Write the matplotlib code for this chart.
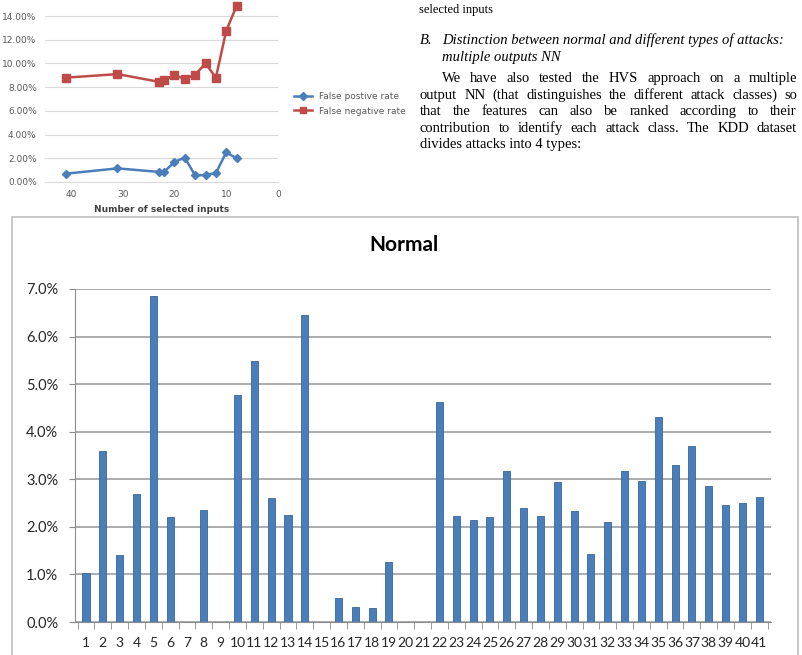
import matplotlib.pyplot as plt
from matplotlib.patches import Rectangle
from matplotlib.lines import Line2D
from matplotlib.ticker import FuncFormatter, FixedLocator

# --- data -------------------------------------------------------------
n_inputs = [41, 31, 23, 22, 20, 18, 16, 14, 12, 10, 8]
false_pos = [0.70, 1.15, 0.85, 0.85, 1.70, 2.05, 0.55, 0.60, 0.75, 2.50, 2.00]
false_neg = [8.80, 9.10, 8.45, 8.60, 9.00, 8.70, 9.05, 10.00, 8.80, 12.75, 14.85]

features = list(range(1, 42))
normal = [1.03, 3.60, 1.40, 2.70, 6.85, 2.20, 0.0, 2.35, 0.0, 4.78,
          5.48, 2.60, 2.25, 6.45, 0.0, 0.50, 0.32, 0.30, 1.27, 0.0,
          0.0, 4.62, 2.22, 2.15, 2.20, 3.17, 2.40, 2.22, 2.94, 2.34,
          1.42, 2.10, 3.17, 2.96, 4.30, 3.29, 3.70, 2.85, 2.45, 2.50,
          2.62]

caption_tail = "selected inputs"
heading = ["Distinction between normal and different types of attacks:",
           "multiple outputs NN"]
para = ["We have also tested the HVS approach on a multiple",
        "output NN (that distinguishes the different attack classes) so",
        "that the features can also be ranked according to their",
        "contribution to identify each attack class. The KDD dataset",
        "divides attacks into 4 types:"]

W, H = 802, 655
fig = plt.figure(figsize=(W / 100, H / 100), dpi=100)


def fx(px):
    return px / W


def fy(py):
    return 1 - py / H


# --- small line chart (top left) --------------------------------------
blue = '#4a7ebb'
red = '#be4b48'
ax1 = fig.add_axes([fx(45), fy(182), fx(233), 182 / H])
ax1.plot(n_inputs, false_pos, color=blue, lw=1.8, marker='D', ms=4.5)
ax1.plot(n_inputs, false_neg, color=red, lw=1.8, marker='s', ms=5.5)
ax1.set_xlim(45, 0)
ax1.set_ylim(0, 15.35)
ax1.set_yticks(range(0, 15, 2))
ax1.set_xticks([40, 30, 20, 10, 0])
ax1.yaxis.set_major_formatter(FuncFormatter(lambda v, p: f'{v:.2f}%'))
ax1.grid(axis='y', color='#d9d9d9', lw=0.8)
ax1.set_axisbelow(True)
for s in ['top', 'right', 'left']:
    ax1.spines[s].set_visible(False)
ax1.spines['bottom'].set_color('#d9d9d9')
ax1.tick_params(length=0, labelsize=6.5, labelcolor='#595959', pad=6)
ax1.set_xlabel('Number of selected inputs', fontsize=6.5, fontweight='bold',
               color='#404040', labelpad=4)

handles = [Line2D([], [], color=blue, lw=1.8, marker='D', ms=4),
           Line2D([], [], color=red, lw=1.8, marker='s', ms=5)]
fig.legend(handles, ['False postive rate', 'False negative rate'],
           loc='upper left', bbox_to_anchor=(fx(286), fy(84)), frameon=False,
           fontsize=6.5, handlelength=2.0, labelspacing=0.6, labelcolor='#595959')

# --- text column (top right) ------------------------------------------
serif = 'Liberation Serif'
fs = 10.5
base = 4  # baseline sits a few px under the line's middle


def put(xp, yp, s, **kw):
    return fig.text(fx(xp), fy(yp + base), s, fontsize=kw.pop('size', fs),
                    family=serif, va='baseline', **kw)


put(419, 9, caption_tail, size=9)
put(420, 40, 'B.', style='italic')
put(442, 40, heading[0], style='italic')
put(442, 57, heading[1], style='italic')

renderer = fig.canvas.get_renderer()
line_y = [78, 95, 111, 128, 144]
line_x0 = [442, 420, 420, 420, 420]
right_px = 797
for i, (line, yy, x0) in enumerate(zip(para, line_y, line_x0)):
    words = line.split()
    if i == len(para) - 1:
        put(x0, yy, line)
        continue
    texts = [put(0, yy, w) for w in words]
    widths = [t.get_window_extent(renderer).width for t in texts]
    gap = (right_px - x0 - sum(widths)) / (len(words) - 1)
    xx = x0
    for t, w in zip(texts, widths):
        t.set_x(fx(xx))
        xx += w + gap

# --- bar chart "Normal" ------------------------------------------------
fig.patches.append(Rectangle((fx(12), -0.01), fx(786), (H - 217) / H + 0.01,
                             transform=fig.transFigure, fill=False,
                             edgecolor='#bfbfbf', lw=1.2))
fig.text(fx(404), fy(245), 'Normal', fontsize=15, fontweight='bold',
         family='Lato', ha='center', va='center')

ax2 = fig.add_axes([fx(75), fy(622), fx(696), (622 - 289) / H])
ax2.bar(features, normal, width=0.42, color='#4a7ebb', edgecolor='#3a6598', lw=0.6)
ax2.set_xlim(0.346, 41.70)
ax2.set_ylim(0, 7)
ax2.set_yticks(range(0, 8))
ax2.yaxis.set_major_formatter(FuncFormatter(lambda v, p: f'{v:.1f}%'))
ax2.set_xticks(features)
ax2.xaxis.set_minor_locator(FixedLocator([k + 0.5 for k in range(0, 42)]))
ax2.grid(axis='y', color='#969696', lw=1.1)
ax2.set_axisbelow(True)
for s in ['top', 'right']:
    ax2.spines[s].set_visible(False)
ax2.spines['left'].set_color('#8c8c8c')
ax2.spines['bottom'].set_color('#8c8c8c')
ax2.tick_params(axis='x', which='major', length=0, pad=11, labelsize=10,
                labelcolor='#262626')
ax2.tick_params(axis='x', which='minor', length=5, color='#8c8c8c', direction='out')
ax2.tick_params(axis='y', length=4, color='#8c8c8c', pad=8, labelsize=10.5,
                labelcolor='#262626')
for lbl in ax2.get_xticklabels() + ax2.get_yticklabels():
    lbl.set_family('Lato')

fig.savefig('out.png', dpi=100)
